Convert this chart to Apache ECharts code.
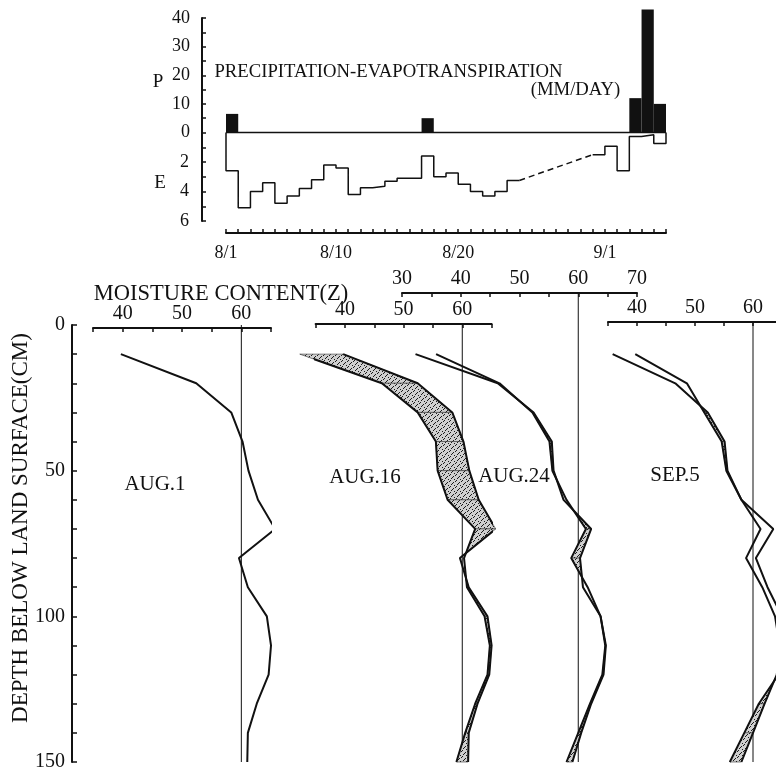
<!DOCTYPE html>
<html><head><meta charset="utf-8">
<script src="https://cdn.jsdelivr.net/npm/echarts@6/dist/echarts.min.js"></script>
<style>html,body{margin:0;padding:0;background:#fff}#c{width:776px;height:767px}</style>
</head><body><div id="c"></div>
<script>
// ---------------- DATA ----------------
// top chart: day index 0 = 8/1
const dayTickPositions = [0, 9, 19, 31];
const dayTickLabels = ['8/1', '8/10', '8/20', '9/1'];
const precipDays = [0, 16, 33, 34, 35];
const precipValues = [6.5, 5, 12, 43, 10];
// evapotranspiration per day (mm/day), null = no daily observation (dashed)
const etValues = [2.6, 5.1, 4.0, 3.4, 4.8, 4.3, 3.8, 3.2, 2.2, 2.4, 4.2, 3.75, 3.65, 3.3, 3.1, 3.1,
  1.6, 3.0, 2.75, 3.5, 4.0, 4.3, 4.0, 3.25, null, null, null, null, null, null,
  1.5, 0.93, 2.6, 0.27, 0.15, 0.75];
// moisture profiles
const depths = [10, 20, 30, 40, 50, 60, 70, 80, 90, 100, 110, 120, 130, 140, 150];
const moistAug1  = [39.7, 52.4, 58.3, 60.2, 61.2, 62.8, 65.7, 59.6, 61.1, 64.3, 65.0, 64.6, 62.6, 61.1, 61.0];
const moistAug16 = [32.3, 46.3, 52.4, 55.5, 55.8, 57.5, 62.2, 60.3, 60.8, 63.8, 64.7, 64.3, 62.2, 60.5, 59.0];
const moistAug24 = [35.8, 46.6, 52.2, 55.1, 55.6, 58.0, 61.3, 58.8, 61.6, 63.8, 64.6, 64.1, 62.0, 60.0, 58.0];
const moistSep5  = [39.7, 48.6, 51.6, 54.6, 55.4, 58.0, 63.5, 60.5, 62.5, 65.0, 65.6, 64.4, 61.0, 58.5, 56.0];
const panelNames = ['AUG.1', 'AUG.16', 'AUG.24', 'SEP.5'];
const referenceMoisture = 60;

// ---------------- HELPERS ----------------
const FONT = 'Liberation Serif';
const INK = '#111';
const chart = echarts.init(document.getElementById('c'), null, {width: 776, height: 767});

const pat = document.createElement('canvas'); pat.width = 6; pat.height = 6;
const pc = pat.getContext('2d'); pc.fillStyle = '#cfcfcf'; pc.fillRect(0, 0, 6, 6);
pc.fillStyle = '#1a1a1a';
[[0,0],[3,2],[1,4],[4,5],[5,1],[2,3]].forEach(p => pc.fillRect(p[0], p[1], 1, 1));
const stipple = {image: pat, repeat: 'repeat'};

function curve(vals) { return depths.map((d, i) => [vals[i], d]); }

function dryingPolygons(before, after) {
  const polys = [];
  for (let i = 0; i < depths.length - 1; i++) {
    const d0 = depths[i], d1 = depths[i + 1];
    const a0 = before[i], a1 = before[i + 1], b0 = after[i], b1 = after[i + 1];
    const g0 = a0 - b0, g1 = a1 - b1;
    if (g0 <= 0 && g1 <= 0) continue;
    if (g0 >= 0 && g1 >= 0) { polys.push([[a0, d0], [a1, d1], [b1, d1], [b0, d0]]); continue; }
    const t = g0 / (g0 - g1);
    const xc = a0 + (a1 - a0) * t, dc = d0 + (d1 - d0) * t;
    if (g0 > 0) polys.push([[a0, d0], [xc, dc], [b0, d0]]);
    else polys.push([[xc, dc], [a1, d1], [b1, d1]]);
  }
  return polys;
}

function lineSeries(data, gi, opts) {
  return Object.assign({type: 'line', xAxisIndex: gi, yAxisIndex: gi, data: data, showSymbol: false,
    symbol: 'none', clip: false, silent: true, z: 3,
    lineStyle: {color: INK, width: 2}}, opts || {});
}

function shadeSeries(polys, gi) {
  return {type: 'custom', xAxisIndex: gi, yAxisIndex: gi, coordinateSystem: 'cartesian2d', silent: true,
    clip: false, z: 2, data: polys.map(p => p[0]),
    renderItem: function (params, api) {
      const pts = polys[params.dataIndex].map(p => api.coord(p));
      return {type: 'polygon', shape: {points: pts}, style: {fill: stipple, stroke: '#333', lineWidth: 0.6}};
    }};
}

// E step segments
const etSegments = [];
(function () {
  let cur = null;
  etValues.forEach((v, i) => {
    if (v == null) { if (cur) { etSegments.push(cur); cur = null; } return; }
    if (!cur) cur = (i === 0) ? [[0, 0]] : [];
    cur.push([i, v]); cur.push([i + 1, v]);
  });
  if (cur) { cur.push([etValues.length, 0]); etSegments.push(cur); }
})();
const etGaps = [];
etValues.forEach((v, i) => {
  if (v == null && i > 0 && etValues[i - 1] != null) {
    let j = i; while (etValues[j] == null) j++;
    etGaps.push([[i, etValues[i - 1]], [j, etValues[j]]]);
  }
});

// ---------------- LAYOUT ----------------
const dayMax = etValues.length;
const labelFont = {fontFamily: FONT, fontSize: 19, color: INK};

const panelGrids = [
  {left: 93, width: 178, top: 325, height: 437, min: 35, max: 65, dmin: 0, axisOffset: -3},
  {left: 315.6, width: 176, top: 325, height: 437, min: 35, max: 65, dmin: 0, axisOffset: 1},
  {left: 402, width: 235, top: 293, height: 469, min: 30, max: 70, dmin: -11, axisOffset: 0},
  {left: 608, width: 174, top: 323, height: 439, min: 35, max: 65, dmin: -0.7, axisOffset: 1}
];

const grids = [
  {left: 226, width: 440, top: 18, height: 114.5},
  {left: 226, width: 440, top: 132.5, height: 88.5}
].concat(panelGrids.map(g => ({left: g.left, width: g.width, top: g.top, height: g.height})));
grids.forEach(g => { g.outerBoundsMode = 'none'; g.containLabel = false; });

const xAxes = [
  {gridIndex: 0, type: 'value', min: 0, max: dayMax, show: false},
  {gridIndex: 1, type: 'value', min: 0, max: dayMax, interval: 1, position: 'bottom', offset: 12,
    axisLine: {onZero: false, lineStyle: {color: INK, width: 2}},
    axisTick: {inside: true, length: 4, lineStyle: {color: INK, width: 1.5}},
    splitLine: {show: false},
    axisLabel: {margin: 11, fontSize: 18, fontFamily: FONT, color: INK, formatter: v => {
      const k = dayTickPositions.indexOf(v); return k >= 0 ? dayTickLabels[k] : ''; }}}
].concat(panelGrids.map((g, k) => ({gridIndex: k + 2, type: 'value', min: g.min, max: g.max, interval: 5,
    position: 'top', offset: g.axisOffset, splitLine: {show: false},
    axisLine: {onZero: false, lineStyle: {color: INK, width: 2}},
    axisTick: {inside: true, length: 4, lineStyle: {color: INK, width: 1.5}},
    axisLabel: Object.assign({margin: 4, formatter: v => (v % 10 === 0 ? String(v) : '')}, labelFont, {fontSize: 20})})));

const yAxes = [
  {gridIndex: 0, type: 'value', min: 0, max: 40, interval: 5, position: 'left', offset: 24, splitLine: {show: false},
    axisLine: {show: true, onZero: false, lineStyle: {color: INK, width: 2}},
    axisTick: {show: true, inside: true, length: 4, lineStyle: {color: INK, width: 1.5}},
    axisLabel: Object.assign({margin: 12, formatter: v => (v % 10 === 0 ? String(v) : '')}, labelFont, {fontSize: 18})},
  {gridIndex: 1, type: 'value', inverse: true, min: 0, max: 6, interval: 1, position: 'left', offset: 24, splitLine: {show: false},
    axisLine: {show: true, onZero: false, lineStyle: {color: INK, width: 2}},
    axisTick: {show: true, inside: true, length: 4, lineStyle: {color: INK, width: 1.5}},
    axisLabel: Object.assign({margin: 13, formatter: v => (v % 2 === 0 && v > 0 ? String(v) : '')}, labelFont, {fontSize: 18})}
].concat(panelGrids.map((g, k) => k === 0 ? {
    gridIndex: 2, type: 'value', inverse: true, min: 0, max: 150, interval: 10, position: 'left', offset: 21,
    splitLine: {show: false},
    axisLine: {show: true, onZero: false, lineStyle: {color: INK, width: 2}},
    axisTick: {show: true, inside: true, length: 5, lineStyle: {color: INK, width: 1.5}},
    axisLabel: Object.assign({margin: 7, formatter: v => (v % 50 === 0 ? String(v) : '')}, labelFont, {fontSize: 20})
  } : {gridIndex: k + 2, type: 'value', inverse: true, min: g.dmin, max: 150, show: false}));

// ---------------- SERIES ----------------
const series = [];
// zero baseline
series.push(lineSeries([[0, 0], [dayMax, 0]], 0, {lineStyle: {color: INK, width: 1.5}}));
// precipitation bars
series.push({type: 'custom', xAxisIndex: 0, yAxisIndex: 0, coordinateSystem: 'cartesian2d', clip: false, silent: true, z: 4,
  data: precipDays.map((d, i) => [d, precipValues[i]]),
  renderItem: function (params, api) {
    const d = api.value(0), v = api.value(1);
    const p1 = api.coord([d, v]), p2 = api.coord([d + 1, 0]);
    return {type: 'rect', shape: {x: p1[0], y: p1[1], width: p2[0] - p1[0], height: p2[1] - p1[1]}, style: {fill: INK}};
  }});
// ET steps
etSegments.forEach(s => series.push(lineSeries(s, 1, {lineStyle: {color: INK, width: 1.5}})));
etGaps.forEach(s => series.push(lineSeries(s, 1, {lineStyle: {color: INK, width: 1.5, type: [6, 4]}})));

// moisture panels
const profiles = [moistAug1, moistAug16, moistAug24, moistSep5];
panelGrids.forEach((g, k) => {
  const gi = k + 2;
  series.push(lineSeries([[referenceMoisture, g.dmin], [referenceMoisture, 150]], gi, {lineStyle: {color: INK, width: 1}, z: 1}));
  if (k > 0) {
    series.push(shadeSeries(dryingPolygons(profiles[k - 1], profiles[k]), gi));
    series.push(lineSeries(curve(profiles[k - 1]), gi));
  }
  series.push(lineSeries(curve(profiles[k]), gi));
});

// ---------------- TEXT ----------------
function txt(text, x, y, size, extra) {
  return Object.assign({type: 'text', x: x, y: y, silent: true,
    style: {text: text, fontFamily: FONT, fontSize: size, fill: INK, textAlign: 'center', textVerticalAlign: 'middle',
      align: 'center', verticalAlign: 'middle'}}, extra || {});
}
const labelPos = [[155, 484], [365, 477], [514, 476], [675, 475]];
const graphics = [
  txt('PRECIPITATION-EVAPOTRANSPIRATION', 388.5, 72, 18.7),
  txt('(MM/DAY)', 575.5, 90, 18.7),
  txt('P', 158, 82, 19),
  txt('E', 160, 183, 19),
  txt('MOISTURE CONTENT(Z)', 221, 294, 22.5),
  txt('DEPTH BELOW LAND SURFACE(CM)', 21, 528, 23, {rotation: Math.PI / 2})
].concat(panelNames.map((n, i) => txt(n, labelPos[i][0], labelPos[i][1], 21)));

chart.setOption({
  animation: false,
  backgroundColor: '#fff',
  grid: grids, xAxis: xAxes, yAxis: yAxes, series: series,
  graphic: {elements: graphics}
});
</script></body></html>
